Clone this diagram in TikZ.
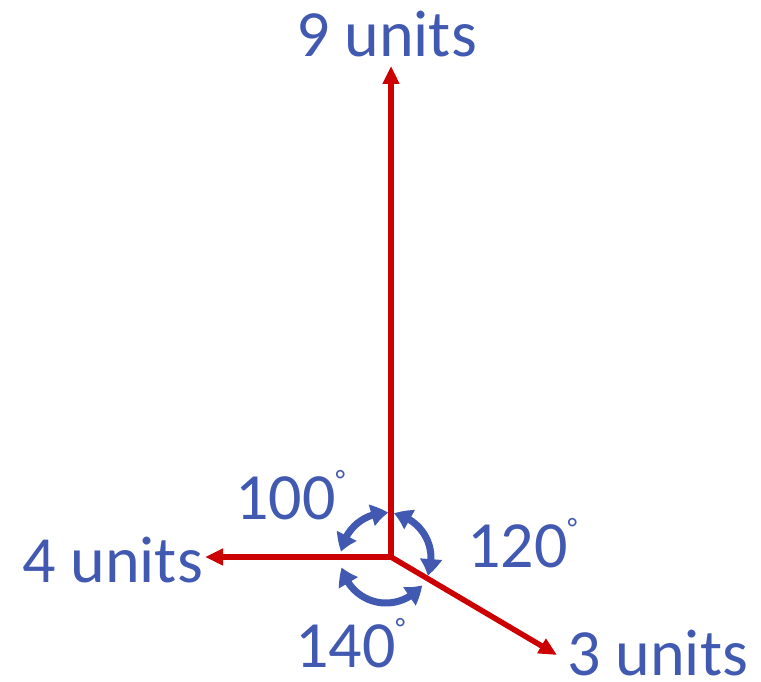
\documentclass[tikz,border=0pt]{standalone}
\usepackage{fontspec}
\setmainfont{Carlito}
\usetikzlibrary{arrows.meta,bending,calc}
\definecolor{vecred}{HTML}{CC0000}
\definecolor{labblue}{HTML}{4159B0}
\newcommand{\degsign}{\raisebox{30bp}{\fontsize{28bp}{28bp}\selectfont °}}

\begin{document}
\begin{tikzpicture}[
    x=1bp, y=1bp,
    vec/.style={
        draw=vecred,
        line width=5.5bp,
        -{Triangle[length=18bp, width=16bp]}
    },
    angarc/.style={
        draw=labblue,
        line width=7bp,
        {Triangle[length=17bp, width=21bp, bend]}-{Triangle[length=17bp, width=21bp, bend]}
    },
    lab/.style={
        text=labblue,
        inner sep=0pt,
        anchor=base west,
        font=\fontsize{66bp}{70bp}\selectfont
    }
]
\useasboundingbox (0,0) rectangle (761,682);

% Punti
\coordinate (o) at (391,125);
\coordinate (c) at (386,124);
\coordinate (up) at (391,616);
\coordinate (lt) at (205,125);
\coordinate (dr) at (557,27);

% Vettori
\draw[vec] (o) -- (up);
\draw[vec] (o) -- (lt);
\draw[vec] (o) -- (dr);

% Angoli
\draw[angarc] ([shift={(87:45)}]c) arc[start angle=87, end angle=172, radius=45];
\draw[angarc] ([shift={(-23:45)}]c) arc[start angle=-23, end angle=80, radius=45];
\draw[angarc] ([shift={(192:45)}]c) arc[start angle=192, end angle=323, radius=45];

% Etichette
\node[lab] (l9) at (296,625) {9 units};
\node[lab] (l4) at (22,99) {4 units};
\node[lab] (l3) at (567,6) {3 units};
\node[lab] (a100) at (235,162) {100\degsign};
\node[lab] (a120) at (467,114) {120\degsign};
\node[lab] (a140) at (295,14) {140\degsign};

\end{tikzpicture}
\end{document}
